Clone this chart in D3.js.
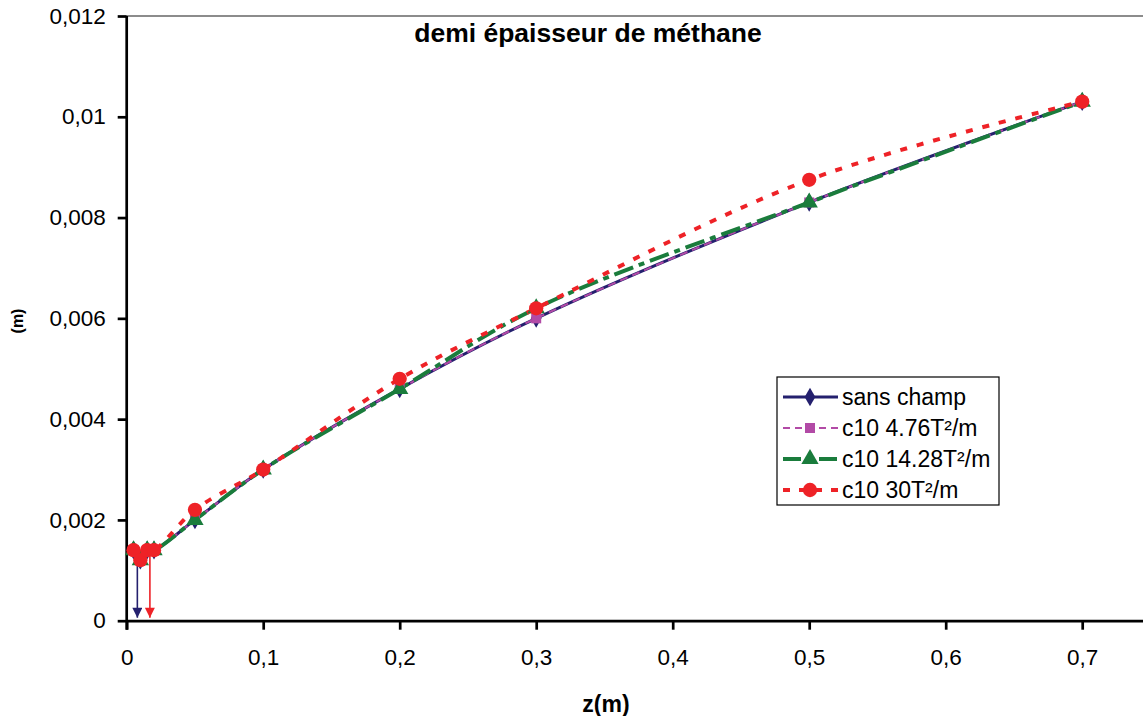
<!DOCTYPE html>
<html><head><meta charset="utf-8">
<script src="https://cdn.jsdelivr.net/npm/d3@7"></script>
<style>
html,body{margin:0;padding:0;background:#fff;}
svg{display:block;font-family:"Liberation Sans",Arial,sans-serif;}
</style></head>
<body>
<svg id="chart" width="1143" height="716"></svg>
<script>
// ---- data ----
const zValues = [0.005, 0.01, 0.015, 0.02, 0.05, 0.1, 0.2, 0.3, 0.5, 0.7];
const sansChamp = [0.0014, 0.0012, 0.0014, 0.0014, 0.002, 0.003, 0.0046, 0.006, 0.0083, 0.0103];
const c10_476 = [0.0014, 0.0012, 0.0014, 0.0014, 0.002, 0.003, 0.0046, 0.006, 0.0083, 0.0103];
const c10_1428 = [0.0014, 0.0012, 0.0014, 0.0014, 0.002, 0.003, 0.0046, 0.0062, 0.0083, 0.0103];
const c10_30 = [0.0014, 0.0012, 0.0014, 0.0014, 0.0022, 0.003, 0.0048, 0.0062, 0.00875, 0.0103];
const seriesNames = ["sans champ", "c10 4.76T²/m", "c10 14.28T²/m", "c10 30T²/m"];
const xTicks = [0, 0.1, 0.2, 0.3, 0.4, 0.5, 0.6, 0.7];
const yTicks = [0, 0.002, 0.004, 0.006, 0.008, 0.01, 0.012];
// arrows: [z, yStart]
const arrowNavy = [0.0078, 0.00118];
const arrowRed = [0.017, 0.00135];
const titleText = "demi épaisseur de méthane";
const xTitle = "z(m)";
const yTitle = "(m)";

// ---- layout ----
const svg = d3.select("#chart");
const x0 = 126.7, pxPerUnitX = 1365;
const x = d3.scaleLinear().domain([0, 0.75]).range([x0, x0 + 0.75 * pxPerUnitX]);
const y = d3.scaleLinear().domain([0, 0.012]).range([620.7, 16]);
const fmt = v => (v === 0 ? "0" : d3.format("~g")(+v.toFixed(4))).replace(".", ",");

const styles = [
  {color: "#24206e", width: 3, dash: null, marker: "diamond", size: 100},
  {color: "#b24aa6", width: 2, dash: "8,5", marker: "square", size: 100},
  {color: "#1a7c3c", width: 4, dash: "20,6,6,6", marker: "triangle", size: 130},
  {color: "#ee2227", width: 4, dash: "7,10", marker: "circle", size: 160}
];
const symType = {diamond: d3.symbolDiamond, square: d3.symbolSquare, triangle: d3.symbolTriangle, circle: d3.symbolCircle};
const allSeries = [sansChamp, c10_476, c10_1428, c10_30];

// top border
svg.append("line").attr("x1", x0).attr("x2", 1143).attr("y1", y(0.012)).attr("y2", y(0.012))
  .attr("stroke", "#8c8c8c").attr("stroke-width", 2);

// axes
const gx = svg.append("g").attr("transform", `translate(0,${y(0)})`)
  .call(d3.axisBottom(x).tickValues(xTicks).tickFormat(fmt).tickSize(9).tickSizeOuter(0).tickPadding(19));
const gy = svg.append("g").attr("transform", `translate(${x0},0)`)
  .call(d3.axisLeft(y).tickValues(yTicks).tickFormat(fmt).tickSize(9).tickSizeOuter(0).tickPadding(12));
[gx, gy].forEach(g => {
  g.select(".domain").attr("stroke", "#000").attr("stroke-width", 2.7);
  g.selectAll(".tick line").attr("stroke", "#000").attr("stroke-width", 2.7);
  g.selectAll(".tick text").attr("fill", "#000").style("font-size", "22.5px")
    .style("font-family", "'Liberation Sans',Arial,sans-serif");
});
gy.select(".domain").attr("d", `M0,${y(0.012)}V${y(0) + 9}`);

// arrows
const defs = svg.append("defs");
function arrowMarker(id, color) {
  defs.append("marker").attr("id", id).attr("viewBox", "0 0 10 10").attr("refX", 10).attr("refY", 5)
    .attr("markerWidth", 12).attr("markerHeight", 10).attr("markerUnits", "userSpaceOnUse").attr("orient", "auto")
    .append("path").attr("d", "M0,0L10,5L0,10Z").attr("fill", color);
}
arrowMarker("ah-navy", styles[0].color);
arrowMarker("ah-red", styles[3].color);
[[arrowNavy, "ah-navy", styles[0].color], [arrowRed, "ah-red", styles[3].color]].forEach(([a, id, c]) => {
  svg.append("line").attr("x1", x(a[0])).attr("x2", x(a[0])).attr("y1", y(a[1])).attr("y2", y(0) - 3)
    .attr("stroke", c).attr("stroke-width", 1.6).attr("marker-end", `url(#${id})`);
});

// lines
const line = d3.line().x(d => x(d[0])).y(d => y(d[1])).curve(d3.curveCatmullRom.alpha(0.5));
allSeries.forEach((vals, i) => {
  const pts = zValues.map((z, j) => [z, vals[j]]);
  const s = styles[i];
  svg.append("path").datum(pts).attr("d", line).attr("fill", "none")
    .attr("stroke", s.color).attr("stroke-width", s.width)
    .attr("stroke-dasharray", s.dash);
});
// markers
allSeries.forEach((vals, i) => {
  const s = styles[i];
  svg.append("g").selectAll("path").data(zValues.map((z, j) => [z, vals[j]])).join("path")
    .attr("transform", d => `translate(${x(d[0])},${y(d[1])})`)
    .attr("d", d3.symbol().type(symType[s.marker]).size(s.size))
    .attr("fill", s.color);
});

// title
svg.append("text").attr("x", 588).attr("y", 42).attr("text-anchor", "middle")
  .style("font-weight", "bold").style("font-size", "26.5px").text(titleText);
// axis titles
svg.append("text").attr("x", 606).attr("y", 712).attr("text-anchor", "middle")
  .style("font-weight", "bold").style("font-size", "23px").text(xTitle);
svg.append("text").attr("transform", "translate(23,321) rotate(-90)").attr("text-anchor", "middle")
  .style("font-weight", "bold").style("font-size", "16px").text(yTitle);

// legend
const lg = svg.append("g");
lg.append("rect").attr("x", 777).attr("y", 377).attr("width", 222).attr("height", 128)
  .attr("fill", "#fff").attr("stroke", "#000").attr("stroke-width", 1.2);
const legendDash = [null, "7,5", "18,6,6,6", "7,9"];
seriesNames.forEach((name, i) => {
  const s = styles[i];
  const yy = 397 + i * 31;
  lg.append("line").attr("x1", 783).attr("x2", 838).attr("y1", yy).attr("y2", yy)
    .attr("stroke", s.color).attr("stroke-width", s.width).attr("stroke-dasharray", legendDash[i]);
  lg.append("path").attr("transform", `translate(810,${yy})`)
    .attr("d", d3.symbol().type(symType[s.marker]).size(s.size)).attr("fill", s.color);
  lg.append("text").attr("x", 842).attr("y", yy + 8).style("font-size", "23px").text(name);
});
</script>
</body></html>
